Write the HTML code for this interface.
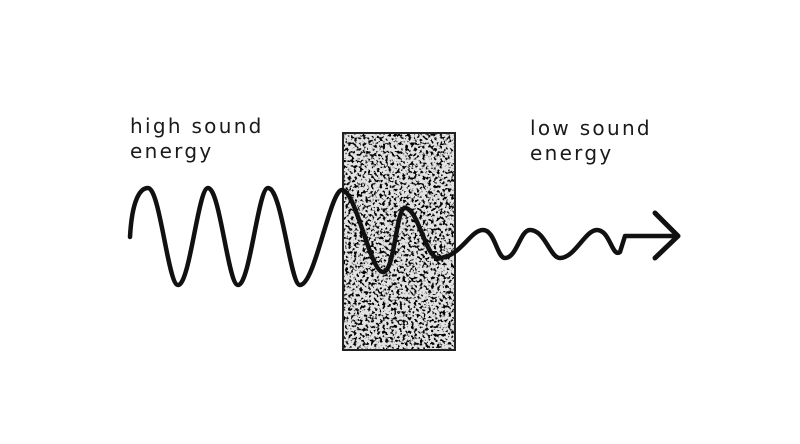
<!DOCTYPE html>
<html><head><style>
html,body{margin:0;padding:0;background:#fff;}
svg{display:block;}
text{font-family:"DejaVu Sans","Liberation Sans",sans-serif;font-size:20px;fill:#1a1a1a;letter-spacing:2.3px;}
</style></head><body>
<svg width="800" height="444" viewBox="0 0 800 444" xmlns="http://www.w3.org/2000/svg">
<defs>
<filter id="n" x="0" y="0" width="100%" height="100%">
<feTurbulence type="fractalNoise" baseFrequency="0.35" numOctaves="2" seed="3" result="t"/>
<feColorMatrix in="t" type="matrix" values="0 0 0 0 0  0 0 0 0 0  0 0 0 0 0  0 0 0 -9 4.3" result="a"/>
<feComposite in="a" in2="SourceGraphic" operator="in"/>
</filter>
</defs>
<rect x="343" y="133" width="112" height="217" fill="#e2e2e2" stroke="#222" stroke-width="2"/>
<rect x="344" y="134" width="110" height="215" fill="#333" filter="url(#n)"/>
<text x="130" y="133">high sound</text>
<text x="130" y="158">energy</text>
<text x="530" y="135">low sound</text>
<text x="530" y="160">energy</text>
<path d="M130,237 C132,200 140,188 148,188 C160,188 168,285 178,285 C190,285 198,188 208,188 C220,188 228,285 238,285 C250,285 258,188 268,188 C282,188 290,285 300,285 C315,285 330,190 342,190 C356,190 370,272 383,272 C395,272 396,208 405,208 C418,208 426,258 438,258 C460,258 470,230 483,230 C495,230 497,258 505,258 C517,258 520,230 530,230 C545,230 550,258 560,258 C575,258 585,230 597,230 C610,230 612,258 620,252 L625,236 L678,236" fill="none" stroke="#111" stroke-width="4.5" stroke-linecap="round" stroke-linejoin="round"/>
<path d="M655,213 L678,236 L655,258" fill="none" stroke="#111" stroke-width="5" stroke-linecap="round" stroke-linejoin="round"/>
</svg>
</body></html>
